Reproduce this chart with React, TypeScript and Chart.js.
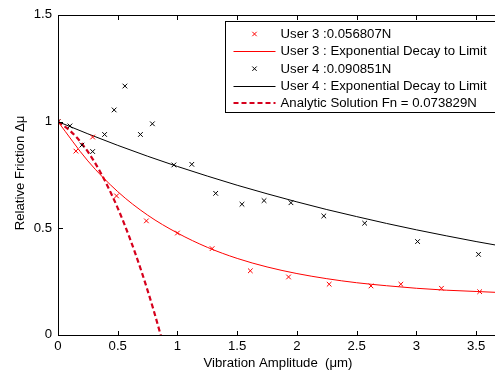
import React, { useEffect, useRef } from 'react';
import { Chart, registerables } from 'chart.js';

Chart.register(...registerables);

// ---- data ----
const user3X = [0.0, 0.15, 0.29, 0.49, 0.74, 1.0, 1.29, 1.61, 1.93, 2.27, 2.62, 2.87, 3.21, 3.53];
const user3Y = [1.0, 0.862, 0.928, 0.652, 0.535, 0.478, 0.405, 0.301, 0.272, 0.238, 0.23, 0.238, 0.219, 0.203];

const user4X = [0.0, 0.1, 0.2, 0.29, 0.39, 0.47, 0.56, 0.69, 0.79, 0.97, 1.12, 1.32, 1.54, 1.725, 1.95, 2.225, 2.567, 3.01, 3.52];
const user4Y = [1.0, 0.98, 0.89, 0.86, 0.94, 1.055, 1.167, 0.94, 0.99, 0.797, 0.8, 0.664, 0.613, 0.63, 0.62, 0.558, 0.524, 0.438, 0.378];

const fitX = [0, 0.25, 0.5, 0.75, 1, 1.25, 1.5, 1.75, 2, 2.25, 2.5, 2.75, 3, 3.25, 3.5, 3.7];
const user3FitY = [1, 0.816, 0.672, 0.562, 0.478, 0.411, 0.359, 0.319, 0.288, 0.264, 0.245, 0.231, 0.219, 0.21, 0.204, 0.199];
const user4FitY = [1, 0.943, 0.889, 0.838, 0.79, 0.745, 0.702, 0.662, 0.624, 0.588, 0.555, 0.523, 0.493, 0.465, 0.438, 0.418];

const analyticX = [0, 0.1, 0.2, 0.3, 0.4, 0.5, 0.6, 0.7, 0.8, 0.9];
const analyticY = [1, 0.958, 0.897, 0.816, 0.715, 0.595, 0.455, 0.296, 0.117, -0.082];

const xTicks = [0, 0.5, 1, 1.5, 2, 2.5, 3, 3.5];
const yTicks = [0, 0.5, 1, 1.5];

const xTitle = 'Vibration Amplitude  (\u03bcm)';
const yTitle = 'Relative Friction \u0394\u03bc';

const legendLabels = [
  'User 3 :0.056807N',
  'User 3 : Exponential Decay to Limit',
  'User 4 :0.090851N',
  'User 4 : Exponential Decay to Limit',
  'Analytic Solution Fn = 0.073829N',
];

const FONT = '"Liberation Sans", Arial, Helvetica, sans-serif';
const FONT_SIZE = 12;
const STRETCH = 1.1;
const RED = '#ff0000';
const DASH_RED = '#d6001c';

const zip = (xs: number[], ys: number[]) => xs.map((x, i) => ({ x, y: ys[i] }));

function drawCross(ctx: CanvasRenderingContext2D, x: number, y: number, r: number, color: string) {
  ctx.save();
  ctx.strokeStyle = color;
  ctx.lineWidth = 1;
  ctx.beginPath();
  ctx.moveTo(x - r, y - r);
  ctx.lineTo(x + r, y + r);
  ctx.moveTo(x - r, y + r);
  ctx.lineTo(x + r, y - r);
  ctx.stroke();
  ctx.restore();
}

function text(
  ctx: CanvasRenderingContext2D,
  s: string,
  x: number,
  y: number,
  align: CanvasTextAlign,
  rotate = false
) {
  ctx.save();
  ctx.translate(x, y);
  if (rotate) ctx.rotate(-Math.PI / 2);
  ctx.scale(STRETCH, 1);
  ctx.font = `${FONT_SIZE}px ${FONT}`;
  ctx.fillStyle = '#000';
  ctx.textAlign = align;
  ctx.textBaseline = 'middle';
  ctx.fillText(s, 0, 0);
  ctx.restore();
}

const framePlugin = {
  id: 'matlabFrame',
  afterDraw(chart: any) {
    const ctx: CanvasRenderingContext2D = chart.ctx;
    const { left, top, right, bottom } = chart.chartArea;
    const xs = chart.scales.x;
    const ys = chart.scales.y;
    ctx.save();
    ctx.strokeStyle = '#000';
    ctx.lineWidth = 1;
    ctx.beginPath();
    ctx.moveTo(left + 0.5, top + 0.5);
    ctx.lineTo(left + 0.5, bottom + 0.5);
    ctx.lineTo(right, bottom + 0.5);
    ctx.moveTo(left, top + 0.5);
    ctx.lineTo(right, top + 0.5);
    ctx.moveTo(right - 0.5, top);
    ctx.lineTo(right - 0.5, bottom);
    const tl = 4;
    xTicks.forEach((v) => {
      const px = Math.round(xs.getPixelForValue(v)) + 0.5;
      ctx.moveTo(px, bottom);
      ctx.lineTo(px, bottom - tl);
      ctx.moveTo(px, top + 1);
      ctx.lineTo(px, top + 1 + tl);
    });
    yTicks.forEach((v) => {
      const py = Math.round(ys.getPixelForValue(v)) + 0.5;
      ctx.moveTo(left, py);
      ctx.lineTo(left + 1 + tl, py);
      ctx.moveTo(right, py);
      ctx.lineTo(right - 1 - tl, py);
    });
    ctx.stroke();

    // tick labels and axis titles
    xTicks.forEach((v) => {
      text(ctx, String(v), xs.getPixelForValue(v), bottom + 12, 'center');
    });
    yTicks.forEach((v) => {
      text(ctx, String(v), left - 6, ys.getPixelForValue(v), 'right');
    });
    text(ctx, xTitle, (left + right) / 2 - 1, bottom + 28.5, 'center');
    text(ctx, yTitle, 21, (top + bottom) / 2 - 2, 'center', true);

    // legend box
    const bl = left + 167.5;
    const bt = top + 6.5;
    const bb = top + 97.5;
    const br = right - 2;
    ctx.fillStyle = '#fff';
    ctx.fillRect(bl, bt, br - bl, bb - bt);
    ctx.strokeStyle = '#000';
    ctx.strokeRect(bl, bt, br - bl, bb - bt);

    legendLabels.forEach((label, i) => {
      const y = bt + 12.5 + i * 17.35;
      const x0 = bl + 8;
      const x1 = bl + 50;
      if (i === 0) drawCross(ctx, bl + 29, y, 2.2, RED);
      if (i === 2) drawCross(ctx, bl + 29, y, 2.2, '#000');
      if (i === 1 || i === 3) {
        ctx.save();
        ctx.strokeStyle = i === 1 ? RED : '#000';
        ctx.lineWidth = 1;
        ctx.beginPath();
        ctx.moveTo(x0, Math.round(y) + 0.5);
        ctx.lineTo(x1, Math.round(y) + 0.5);
        ctx.stroke();
        ctx.restore();
      }
      if (i === 4) {
        ctx.save();
        ctx.strokeStyle = DASH_RED;
        ctx.lineWidth = 2;
        ctx.setLineDash([5, 3]);
        ctx.beginPath();
        ctx.moveTo(x0, Math.round(y));
        ctx.lineTo(x1, Math.round(y));
        ctx.stroke();
        ctx.restore();
      }
      text(ctx, label, bl + 55, y + 0.5, 'left');
    });
    ctx.restore();
  },
};

export default function App() {
  const ref = useRef<HTMLCanvasElement | null>(null);

  useEffect(() => {
    document.body.style.margin = '0';
    const canvas = ref.current;
    if (!canvas) return;
    const chart = new Chart(canvas, {
      type: 'scatter',
      data: {
        datasets: [
          {
            label: legendLabels[0],
            data: zip(user3X, user3Y),
            showLine: false,
            pointStyle: 'crossRot',
            pointRadius: 3.3,
            borderColor: RED,
            backgroundColor: RED,
            pointBorderWidth: 1,
          },
          {
            label: legendLabels[1],
            data: zip(fitX, user3FitY),
            showLine: true,
            pointRadius: 0,
            borderColor: RED,
            borderWidth: 1,
            cubicInterpolationMode: 'monotone',
          },
          {
            label: legendLabels[2],
            data: zip(user4X, user4Y),
            showLine: false,
            pointStyle: 'crossRot',
            pointRadius: 3.3,
            borderColor: '#000',
            backgroundColor: '#000',
            pointBorderWidth: 1,
          },
          {
            label: legendLabels[3],
            data: zip(fitX, user4FitY),
            showLine: true,
            pointRadius: 0,
            borderColor: '#000',
            borderWidth: 1,
            cubicInterpolationMode: 'monotone',
          },
          {
            label: legendLabels[4],
            data: zip(analyticX, analyticY),
            showLine: true,
            pointRadius: 0,
            borderColor: DASH_RED,
            borderWidth: 2.2,
            borderDash: [5, 3],
            cubicInterpolationMode: 'monotone',
          },
        ] as any,
      },
      options: {
        responsive: false,
        animation: false,
        devicePixelRatio: 1,
        events: [],
        layout: { padding: { left: 0, top: 15, right: 3, bottom: 0 } },
        plugins: {
          legend: { display: false },
          tooltip: { enabled: false },
        },
        scales: {
          x: {
            type: 'linear',
            min: 0,
            max: 3.7,
            afterBuildTicks: (s: any) => {
              s.ticks = xTicks.map((v) => ({ value: v }));
            },
            afterFit: (s: any) => {
              s.height = 37;
            },
            grid: { display: false },
            border: { display: false },
            ticks: { display: false },
            title: { display: false },
          },
          y: {
            type: 'linear',
            min: 0,
            max: 1.5,
            afterBuildTicks: (s: any) => {
              s.ticks = yTicks.map((v) => ({ value: v }));
            },
            afterFit: (s: any) => {
              s.width = 58;
            },
            grid: { display: false },
            border: { display: false },
            ticks: { display: false },
            title: { display: false },
          },
        },
      } as any,
      plugins: [framePlugin],
    });
    return () => chart.destroy();
  }, []);

  return (
    <div
      style={{
        position: 'fixed',
        left: 0,
        top: 0,
        width: 495,
        height: 372,
        overflow: 'hidden',
        background: '#fff',
      }}
    >
      <canvas ref={ref} width={505} height={372} style={{ width: 505, height: 372, display: 'block' }} />
    </div>
  );
}
